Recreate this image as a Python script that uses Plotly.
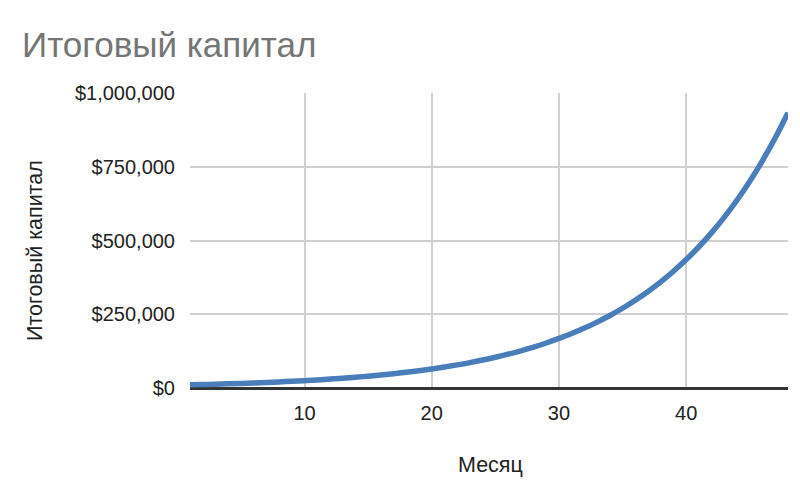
import plotly.graph_objects as go

months = list(range(1, 49))
capital = [
    10600, 11600, 12800, 14100, 15500, 17000, 18700, 20600, 22700, 25000,
    27400, 30200, 33200, 36500, 40200, 44200, 48600, 53500, 58800, 64700,
    71200, 78300, 86100, 94700, 104200, 114600, 126100, 138700, 152600, 168000,
    184600, 203100, 223400, 245700, 270300, 297300, 327000, 359700, 395700, 435300,
    478800, 526700, 579400, 637300, 701000, 771100, 848200, 933000,
]
y_ticks = [0, 250000, 500000, 750000, 1000000]
y_tick_labels = ["$0", "$250,000", "$500,000", "$750,000", "$1,000,000"]
x_ticks = [10, 20, 30, 40]

FONT = "Liberation Sans, Arial, Helvetica, sans-serif"

# page body has an 8px default margin; coordinates below compensate for it
L, R, T, B = 182, 20, 85, 119
PW, PH = 800 - L - R, 499 - T - B

fig = go.Figure()
fig.add_trace(go.Scatter(
    x=months, y=capital, mode="lines",
    line=dict(color="#4a7ebb", width=5.5, shape="spline"),
    hoverinfo="x+y",
))

fig.update_layout(
    width=800, height=499,
    paper_bgcolor="white", plot_bgcolor="white",
    margin=dict(l=L, r=R, t=T, b=B),
    showlegend=False,
    font=dict(family=FONT, size=20, color="#222222"),
    title=dict(
        text="Итоговый капитал", xref="container", yref="container",
        x=14 / 800, xanchor="left", y=1 - 37 / 499, yanchor="middle",
        font=dict(family=FONT, size=35, color="#757575"),
    ),
    xaxis=dict(
        range=[1, 48], tickvals=x_ticks, showgrid=True,
        gridcolor="#d0d0d0", gridwidth=1.5, zeroline=False,
        showline=False, ticks="outside", ticklen=7,
        tickcolor="rgba(0,0,0,0)", tickfont=dict(size=20, color="#222222"),
    ),
    yaxis=dict(
        range=[0, 1000000], tickvals=y_ticks, ticktext=y_tick_labels,
        showgrid=True, gridcolor="#d0d0d0", gridwidth=1.5,
        zeroline=True, zerolinecolor="#333333", zerolinewidth=2.5,
        ticks="outside", ticklen=10, tickcolor="rgba(0,0,0,0)",
        tickfont=dict(size=20, color="#222222"),
    ),
    annotations=[
        dict(text="Итоговый капитал", xref="paper", yref="paper",
             x=(27 - L) / PW, y=(499 - B - 243) / PH, textangle=-90,
             showarrow=False, xanchor="center", yanchor="middle",
             font=dict(family=FONT, size=21.5, color="#222222")),
        dict(text="Месяц", xref="paper", yref="paper",
             x=(482 - L) / PW, y=-(457 - (499 - B)) / PH, showarrow=False,
             xanchor="center", yanchor="middle",
             font=dict(family=FONT, size=21.5, color="#222222")),
    ],
)

fig.write_html("out.html")
